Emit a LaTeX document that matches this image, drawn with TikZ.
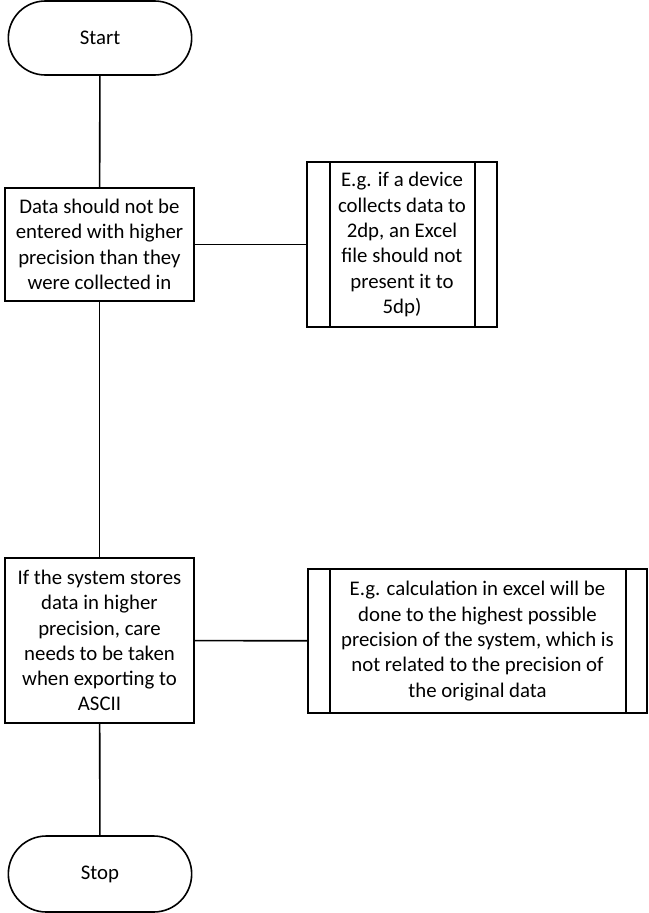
\documentclass[tikz,border=0pt]{standalone}
\usepackage{fontspec}
\setmainfont{Carlito}
\usetikzlibrary{shapes.misc}

\tikzset{
  terminal/.style={rounded rectangle, draw, line width=1.6pt, minimum width=190pt, minimum height=74pt, font=\fontsize{20.8}{25.3}\selectfont},
  process/.style={rectangle, draw, line width=1.6pt, align=center, inner sep=0pt, font=\fontsize{20.8}{25.3}\selectfont},
  predef/.style={process},
  link/.style={line width=1.6pt}
}

\begin{document}
\begin{tikzpicture}[x=1pt, y=-1pt]
  \useasboundingbox (0,0) rectangle (648,913);
  % main column
  \node[terminal] (start) at (100,38) {Start};
  \node[process, minimum width=189pt, minimum height=113pt] (data) at (99.5,244.5)
    {Data should not be\\entered with higher\\precision than they\\were collected in};
  \node[process, minimum width=189pt, minimum height=165pt] (sys) at (99.5,640.5)
    {If the system stores\\data in higher\\precision, care\\needs to be taken\\when exporting to\\ASCII};
  \node[terminal, minimum height=76pt] (stop) at (100,874) {Stop};
  % side notes (predefined process boxes)
  \node[predef, minimum width=190pt, minimum height=165pt] (eg1) at (402,244.5)
    {E.g. if a device\\collects data to\\2dp, an Excel\\file should not\\present it to\\5dp)};
  \node[predef, minimum width=339pt, minimum height=144pt] (eg2) at (477.5,641)
    {E.g. calculation in excel will be\\done to the highest possible\\precision of the system, which is\\not related to the precision of\\the original data};
  % inner bars of the side notes
  \draw[link] ([xshift=24pt]eg1.north west) -- ([xshift=24pt]eg1.south west);
  \draw[link] ([xshift=-23pt]eg1.north east) -- ([xshift=-23pt]eg1.south east);
  \draw[link] ([xshift=23pt]eg2.north west) -- ([xshift=23pt]eg2.south west);
  \draw[link] ([xshift=-22pt]eg2.north east) -- ([xshift=-22pt]eg2.south east);
  % connectors
  \draw[link] (start) -- (data);
  \draw[link] (data) -- (eg1);
  \draw[link] (data) -- (sys);
  \draw[link] (sys) -- (eg2);
  \draw[link] (sys) -- (stop);
\end{tikzpicture}
\end{document}
